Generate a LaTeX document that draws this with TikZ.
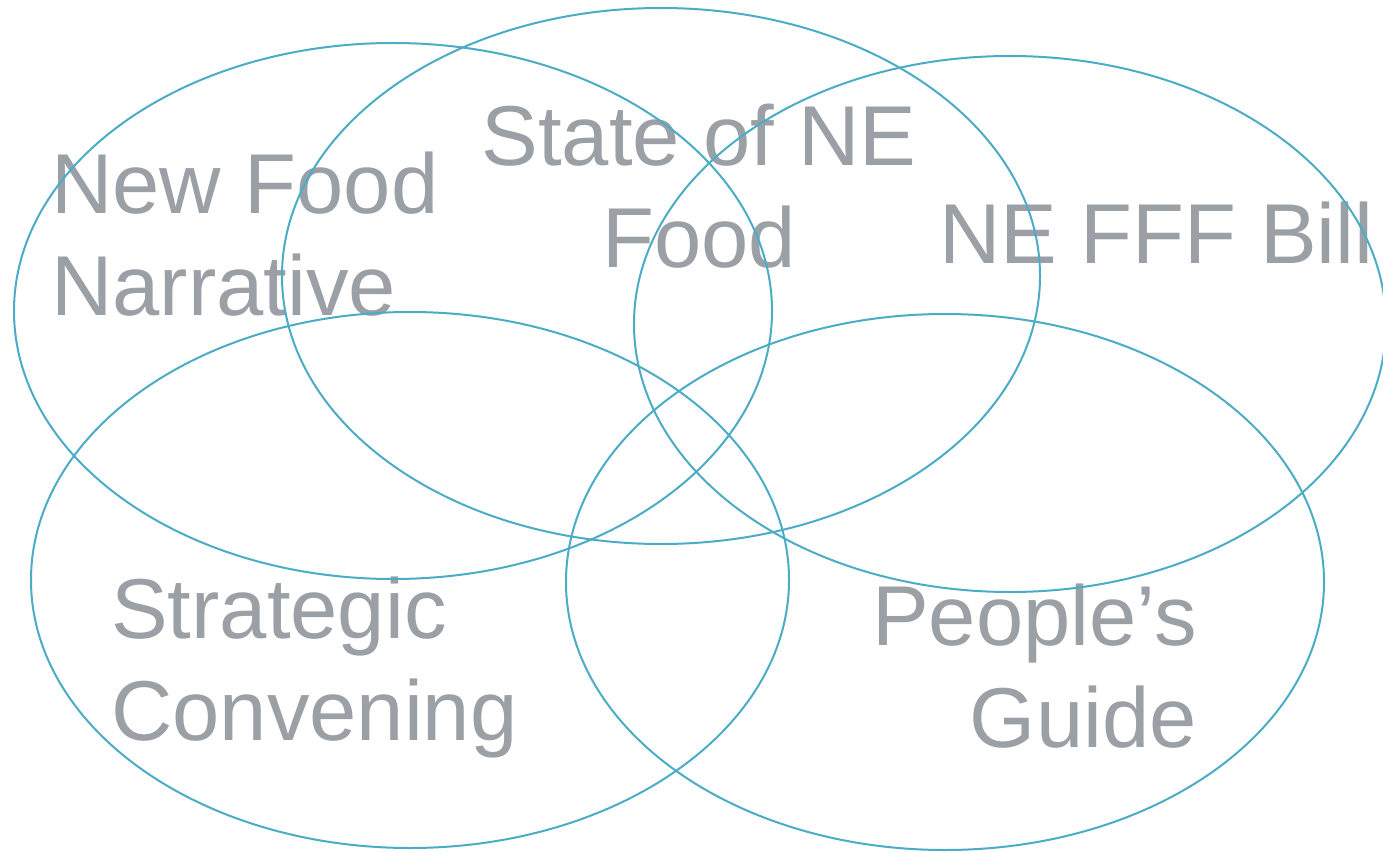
\documentclass[tikz,border=0pt]{standalone}
\usepackage{fontspec}
\setmainfont{Liberation Sans}
\definecolor{ring}{RGB}{75,172,198}
\definecolor{label}{RGB}{155,160,166}
\tikzset{
  ring/.style={draw=ring, line width=2pt},
  lbl/.style={text=label, inner sep=0pt, font=\fontsize{85}{102}\selectfont}
}
\begin{document}
\begin{tikzpicture}[x=1pt, y=-1pt]
\useasboundingbox (0,0) rectangle (1383,853);
\clip (0,0) rectangle (1383,853);
\fill[white] (0,0) rectangle (1383,853);
% labels (base anchor = baseline of last line)
\node[lbl, anchor=base west, align=left] (narr) at (51,315) {New Food\\Narrative};
\node[lbl, anchor=base, align=center] (state) at (699,267) {State of NE\\Food};
\node[lbl, anchor=base west] (bill) at (939,263) {NE FFF Bill};
\node[lbl, anchor=base west, align=left] (conv) at (111,740) {Strategic\\Convening};
\node[lbl, anchor=base east, align=right] (guide) at (1197,747) {People’s\\Guide};
% circles
\draw[ring] (393,311) ellipse [x radius=379, y radius=268];
\draw[ring] (661,276) ellipse [x radius=379, y radius=268];
\draw[ring] (1010,324) ellipse [x radius=376, y radius=268];
\draw[ring] (410,580) ellipse [x radius=379, y radius=268];
\draw[ring] (945,582) ellipse [x radius=379, y radius=268];
\end{tikzpicture}
\end{document}
